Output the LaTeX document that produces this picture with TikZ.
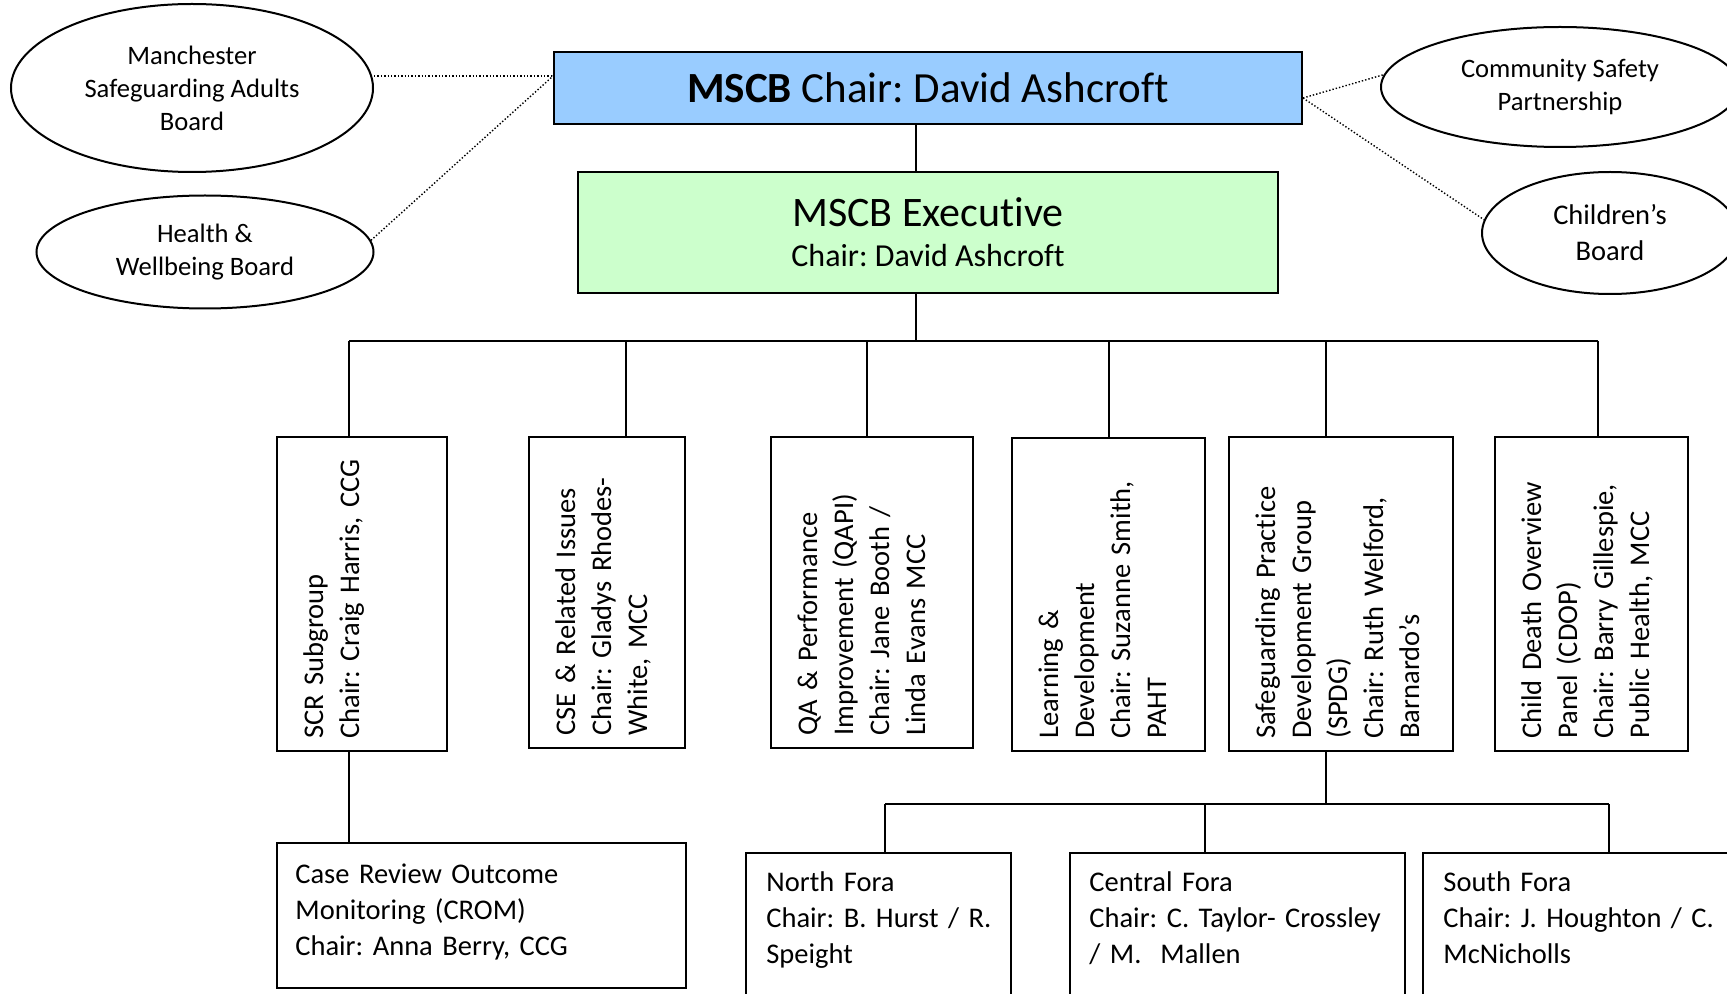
\documentclass[tikz,border=0pt]{standalone}
\usepackage{fontspec}
\setmainfont{Carlito}[Ligatures=NoCommon]
\usepackage{tikz}
\usetikzlibrary{shapes.geometric}
\definecolor{chairblue}{RGB}{153,204,255}
\definecolor{execgreen}{RGB}{204,255,204}
\newcommand{\orgfont}{\fontsize{14.25pt}{18pt}\selectfont}
\newcommand{\ovalfont}{\fontsize{13.3pt}{16.5pt}\selectfont}
\frenchspacing
\tikzset{
	orgbox/.style={draw, line width=1pt, rectangle, inner sep=0pt},
	board/.style={draw, line width=1pt, ellipse, inner sep=0pt, align=center, font=\ovalfont},
	vtext/.style={rotate=90, anchor=base west, inner sep=0pt, text width=150pt, align=left, font=\orgfont},
	htext/.style={anchor=base west, inner sep=0pt, text width=190pt, align=left, font=\orgfont},
	link/.style={densely dotted, line width=0.7pt},
	wire/.style={line width=0.9pt}
}

\begin{document}
\begin{tikzpicture}[x=0.5pt, y=-0.5pt]
				\useasboundingbox (0,0) rectangle (1727,994);
				\clip (0,0) rectangle (1727,994);
				\node[board, minimum width=181pt, minimum height=84pt] (msab) at (192,88) {Manchester\\Safeguarding Adults\\Board};
				\node[board, minimum width=168.5pt, minimum height=56.5pt] (hw) at (205,252) {Health \&\\Wellbeing Board};
				\node[board, minimum width=179pt, minimum height=60pt] (csp) at (1560,87) {Community Safety\\Partnership};
				\node[board, minimum width=128pt, minimum height=61pt, font=\orgfont] (child) at (1610,233) {Children’s\\Board};
				\node[orgbox, fill=chairblue, minimum width=374pt, minimum height=36pt, font=\fontsize{21.5pt}{26pt}\selectfont] (blue) at (928,88) {\textbf{MSCB} Chair: David Ashcroft};
				\node[orgbox, fill=execgreen, minimum width=350pt, minimum height=60.5pt, align=center, font=\fontsize{16pt}{20pt}\selectfont] (green) at (928,232.5) {{\fontsize{21pt}{24pt}\selectfont MSCB Executive}\\Chair: David Ashcroft};
				\node[orgbox, minimum width=85pt, minimum height=157pt] (scr) at (362,594) {};
				\node[orgbox, minimum width=78pt, minimum height=155.5pt] (cse) at (607,592.5) {};
				\node[orgbox, minimum width=101pt, minimum height=155.5pt] (qa) at (872,592.5) {};
				\node[orgbox, minimum width=96.5pt, minimum height=156.5pt] (ld) at (1108.5,594.5) {};
				\node[orgbox, minimum width=112pt, minimum height=157pt] (spdg) at (1341,594) {};
				\node[orgbox, minimum width=96.5pt, minimum height=157pt] (cdop) at (1591.5,594) {};
				\node[orgbox, minimum width=204.5pt, minimum height=72.5pt] (crom) at (481.5,915.5) {};
				\node[orgbox, minimum width=132.5pt, minimum height=83.5pt] (north) at (878.5,936.5) {};
				\node[orgbox, minimum width=167.5pt, minimum height=83.5pt] (central) at (1237.5,936.5) {};
				\node[orgbox, minimum width=168.5pt, minimum height=83.5pt] (south) at (1591.5,936.5) {};
				\node[vtext] (scrtext) at ([xshift=23.5pt, yshift=6.5pt]scr.south west) {SCR Subgroup\\Chair: Craig Harris,\ CCG};
				\node[vtext] (csetext) at ([xshift=23.5pt, yshift=6.5pt]cse.south west) {CSE \& Related Issues\\Chair: Gladys Rhodes-\\White, MCC};
				\node[vtext] (qatext) at ([xshift=23.5pt, yshift=6.5pt]qa.south west) {QA \& Performance\\Improvement (QAPI)\\Chair: Jane Booth /\\Linda Evans MCC};
				\node[vtext] (ldtext) at ([xshift=23.5pt, yshift=6.5pt]ld.south west) {Learning \&\\Development\\Chair: Suzanne Smith,\\PAHT};
				\node[vtext] (spdgtext) at ([xshift=23.5pt, yshift=6.5pt]spdg.south west) {Safeguarding Practice\\Development Group\\(SPDG)\\Chair: Ruth Welford,\\Barnardo’s};
				\node[vtext] (cdoptext) at ([xshift=23.5pt, yshift=6.5pt]cdop.south west) {Child Death Overview\\Panel (CDOP)\\Chair: Barry Gillespie,\\Public Health, MCC};
				\node[htext] (cromtext) at ([xshift=9.5pt, yshift=-20.5pt]crom.north west) {Case Review Outcome\\Monitoring (CROM)\\Chair: Anna Berry, CCG};
				\node[htext] (northtext) at ([xshift=10.5pt, yshift=-19.5pt]north.north west) {North Fora\\Chair: B. Hurst / R.\\Speight};
				\node[htext] (centraltext) at ([xshift=10pt, yshift=-19.5pt]central.north west) {Central Fora\\Chair: C. Taylor- Crossley\\/ M.~ Mallen};
				\node[htext] (southtext) at ([xshift=10.5pt, yshift=-19.5pt]south.north west) {South Fora\\Chair: J. Houghton / C.\\McNicholls};
				\coordinate (lhub) at ([yshift=6pt]blue.west);
				\coordinate (rhub) at ([yshift=-5pt]blue.east);
				\draw[link] (msab.east |- lhub) -- (lhub);
				\draw[link] (hw.4) -- (lhub);
				\draw[link] (rhub) -- (csp.176);
				\draw[link] (rhub) -- (child.174);
				\coordinate (trunk) at (916,341);
				\draw[wire] (blue.south -| trunk) -- (green.north -| trunk);
				\draw[wire] (green.south -| trunk) -- (trunk);
				\draw[wire] (349,341) -- (1598,341);
				\foreach \dx/\nm in {349/scr,626/cse,867/qa,1109/ld,1326/spdg,1598/cdop} {
					\draw[wire] (\dx,341) -- (\dx,341 |- \nm.north);
				}
				\draw[wire] (349,341 |- scr.south) -- (349,341 |- crom.north);
				\coordinate (fbus) at (1326,804);
				\draw[wire] (fbus |- spdg.south) -- (fbus);
				\draw[wire] (885,804) -- (1609,804);
				\foreach \dx/\nm in {885/north,1205/central,1609/south} {
					\draw[wire] (\dx,804) -- (\dx,804 |- \nm.north);
				}
			\end{tikzpicture}
\end{document}
